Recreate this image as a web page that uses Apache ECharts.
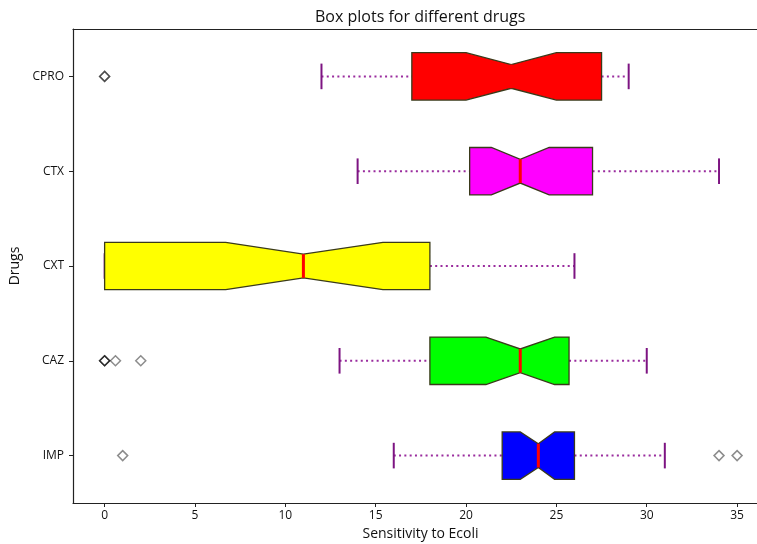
<!DOCTYPE html>
<html>
<head>
<meta charset="utf-8">
<script src="https://cdn.jsdelivr.net/npm/echarts@6/dist/echarts.min.js"></script>
<style>
  html, body { margin: 0; padding: 0; background: #fff; overflow: hidden; }
  #main { width: 772px; height: 544px; }
</style>
</head>
<body>
<div id="main"></div>
<script>
// categories, bottom to top
const drugs = ['IMP', 'CAZ', 'CXT', 'CTX', 'CPRO'];
const whiskerLow = [16, 13, 0, 14, 12];
const q1 = [22, 18, 0, 20.2, 17];
const notchLow = [23, 21.1, 6.7, 21.4, 20];
const medians = [24, 23, 11, 23, 22.5];
const notchHigh = [24.9, 24.9, 15.4, 24.6, 25];
const q3 = [26, 25.7, 18, 27, 27.5];
const whiskerHigh = [31, 30, 26, 34, 29];
const boxColors = ['#0000ff', '#00ff00', '#ffff00', '#ff00ff', '#ff0000'];
// outliers per drug (repeated values overlap and look darker)
const fliers = [[1, 34, 35], [0, 0, 0, 0.6, 2], [], [], [0, 0]];
const xTicks = [0, 5, 10, 15, 20, 25, 30, 35];

const boxData = drugs.map((d, i) => [i, whiskerLow[i], q1[i], notchLow[i], medians[i], notchHigh[i], q3[i], whiskerHigh[i]]);
const flierData = [];
fliers.forEach((arr, i) => arr.forEach(v => flierData.push([v, i])));

const chart = echarts.init(document.getElementById('main'));

function renderBox(params, api) {
  const idx = api.value(0);
  const band = api.size([0, 1])[1];
  const h = band * 0.25;      // half box height (widths = 0.5)
  const hw = band * 0.125;    // half waist at the notch
  const hc = band * 0.135;    // half cap length
  const y = api.coord([0, idx])[1];
  const X = k => api.coord([api.value(k), idx])[0];
  const wl = X(1), b1 = X(2), n1 = X(3), md = X(4), n2 = X(5), b3 = X(6), wh = X(7);
  const whiskerStyle = { stroke: '#9a2c9e', lineWidth: 2, lineDash: [2, 3.3] };
  const capStyle = { stroke: '#7d1482', lineWidth: 2 };
  return {
    type: 'group',
    children: [
      { type: 'line', shape: { x1: wl, y1: y, x2: b1, y2: y }, style: whiskerStyle },
      { type: 'line', shape: { x1: b3, y1: y, x2: wh, y2: y }, style: whiskerStyle },
      { type: 'line', shape: { x1: wl, y1: y - hc, x2: wl, y2: y + hc }, style: capStyle },
      { type: 'line', shape: { x1: wh, y1: y - hc, x2: wh, y2: y + hc }, style: capStyle },
      {
        type: 'polygon',
        shape: {
          points: [
            [b1, y - h], [n1, y - h], [md, y - hw], [n2, y - h], [b3, y - h],
            [b3, y + h], [n2, y + h], [md, y + hw], [n1, y + h], [b1, y + h]
          ]
        },
        style: { fill: boxColors[idx], stroke: '#3a3a1a', lineWidth: 1.3 }
      },
      { type: 'line', shape: { x1: md, y1: y - hw, x2: md, y2: y + hw }, style: { stroke: '#ff0000', lineWidth: 3 } }
    ]
  };
}

chart.setOption({
  animation: false,
  title: {
    text: 'Box plots for different drugs',
    left: 310,
    top: 4,
    textStyle: { fontFamily: 'Open Sans', fontSize: 16, fontWeight: 'normal', color: '#111' }
  },
  grid: { left: 73, width: 695, top: 29, bottom: 41, outerBoundsMode: 'none' },
  xAxis: [
    {
      type: 'value',
      min: -1.75,
      max: 36.71,
      name: 'Sensitivity to Ecoli',
      nameLocation: 'middle',
      nameGap: 23,
      nameTextStyle: { fontFamily: 'Open Sans', fontSize: 14, color: '#111' },
      splitLine: { show: false },
      axisLine: { show: true, onZero: false, lineStyle: { color: '#222', width: 1.2 } },
      axisTick: { show: true, length: 4, customValues: xTicks, lineStyle: { color: '#222' } },
      axisLabel: { customValues: xTicks, margin: 7, fontFamily: 'Open Sans', fontSize: 12, color: '#111' }
    },
    {
      type: 'value',
      min: -1.75,
      max: 36.71,
      position: 'top',
      splitLine: { show: false },
      axisLine: { show: true, onZero: false, lineStyle: { color: '#222', width: 1.2 } },
      axisTick: { show: false },
      axisLabel: { show: false }
    }
  ],
  yAxis: {
    type: 'category',
    data: drugs,
    name: 'Drugs',
    nameLocation: 'middle',
    nameGap: 43,
    nameTextStyle: { fontFamily: 'Open Sans', fontSize: 14, color: '#111' },
    axisLine: { show: true, onZero: false, lineStyle: { color: '#222', width: 1.2 } },
    axisTick: { show: true, alignWithLabel: true, length: 4, lineStyle: { color: '#222' } },
    axisLabel: { margin: 9, fontFamily: 'Open Sans', fontSize: 12, color: '#111' },
    splitLine: { show: false }
  },
  series: [
    {
      type: 'custom',
      xAxisIndex: 0,
      renderItem: renderBox,
      encode: { x: [1, 2, 3, 4, 5, 6, 7], y: 0 },
      data: boxData,
      z: 2
    },
    {
      type: 'scatter',
      xAxisIndex: 0,
      symbol: 'diamond',
      symbolSize: 10,
      data: flierData,
      itemStyle: { color: 'rgba(255,255,255,0)', borderColor: 'rgba(0,0,0,0.45)', borderWidth: 1.5, opacity: 1 },
      z: 3
    }
  ]
});
</script>
</body>
</html>
